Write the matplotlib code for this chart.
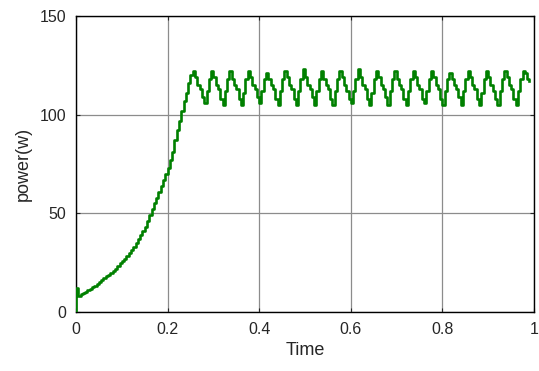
import numpy as np
import matplotlib
matplotlib.use("Agg")
import matplotlib.pyplot as plt

plt.rcParams['font.family'] = ['Liberation Sans', 'DejaVu Sans']

t_step = 0.005
# start-up transient (t = 0 ... 0.25)
rise = [12, 8, 9, 9.5, 10, 11, 11.5, 12.5, 13, 14, 15, 16, 17, 18, 19, 20, 21, 22,
        23.5, 25, 26, 27, 28.5, 30, 31.5, 33, 35, 37, 39, 41, 43, 46, 49, 52, 55, 58,
        61, 64, 67, 70, 73, 77, 81, 87, 92, 97, 102, 107, 111, 116, 120]
# steady-state ripple (t = 0.255 ... 0.99)
ripple = [122, 119, 115, 113, 109, 106, 112, 118,
          122, 119, 115, 113, 108, 105, 112, 118,
          122, 118, 115, 113, 108, 105, 111, 118,
          122, 119, 115, 113, 109, 106, 112, 118,
          121, 118, 115, 113, 108, 105, 112, 118,
          122, 119, 115, 113, 108, 105, 112, 118,
          123, 119, 115, 113, 109, 105, 112, 118,
          122, 118, 115, 113, 108, 105, 112, 118,
          122, 119, 115, 112, 108, 106, 112, 118,
          123, 119, 115, 113, 108, 105, 111, 118,
          122, 119, 115, 113, 109, 105, 112, 118,
          122, 118, 115, 113, 108, 105, 112, 118,
          122, 119, 115, 113, 108, 106, 112, 118,
          122, 119, 115, 113, 108, 105, 112, 118,
          121, 118, 115, 113, 109, 105, 112, 118,
          122, 119, 115, 113, 108, 105, 111, 118,
          122, 119, 115, 112, 108, 105, 112, 118,
          122, 119, 115, 113, 108, 105, 112, 118,
          122, 121, 118, 117]

power = np.array([0] + rise + ripple, dtype=float)
time = np.concatenate([[0.0], np.arange(len(rise) + len(ripple)) * t_step])

xticks = [0, 0.2, 0.4, 0.6, 0.8, 1]
xticklabels = ['0', '0.2', '0.4', '0.6', '0.8', '1']
yticks = [0, 50, 100, 150]

fig = plt.figure(figsize=(5.39, 3.71), dpi=100)
ax = fig.add_axes([0.141, 0.159, 0.8497, 0.798])
ax.plot(time, power, color='#008000', linewidth=1.9, drawstyle='steps-post', zorder=3)

ax.set_xlim(0, 1)
ax.set_ylim(0, 150)
ax.set_xticks(xticks)
ax.set_xticklabels(xticklabels)
ax.set_yticks(yticks)
ax.grid(True, color='#8c8c8c', linewidth=0.9)
ax.tick_params(direction='in', length=3, width=0.8, top=True, right=True,
               labelsize=11.5, colors='#262626', pad=7)
for s in ax.spines.values():
    s.set_linewidth(1.0)
    s.set_color('black')
ax.set_xlabel('Time', fontsize=13, color='#262626', labelpad=4)
ax.set_ylabel('power(w)', fontsize=13, color='#262626', labelpad=6)

fig.savefig('out.png', dpi=100)
